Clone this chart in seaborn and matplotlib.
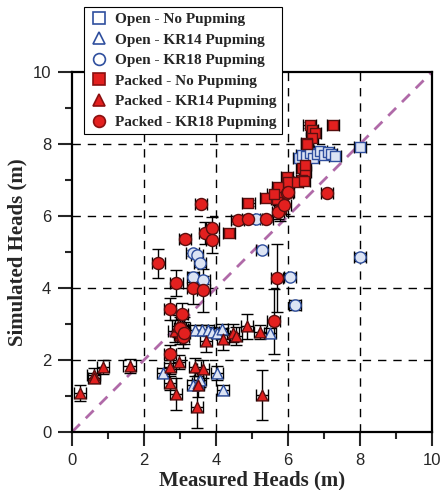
import numpy as np
import pandas as pd
import matplotlib
matplotlib.use("Agg")
import matplotlib.pyplot as plt
import seaborn as sns

# ---------------- data ----------------
open_np_x = [6.3, 6.4, 6.5, 6.6, 6.7, 6.8, 6.9, 7.0, 7.1, 7.2, 7.3, 8.0]
open_np_y = [7.62, 7.7, 7.68, 7.75, 7.6, 7.72, 7.8, 7.7, 7.78, 7.72, 7.68, 7.92]
open_np_yerr = [0.08] * 12

open_k14_x = [2.53, 3.36, 3.5, 3.55, 4.03, 4.19, 3.42, 3.6, 3.78, 3.9, 4.03, 4.17, 5.5]
open_k14_y = [1.64, 1.3, 1.36, 1.44, 1.64, 1.17, 2.83, 2.83, 2.83, 2.78, 2.75, 2.85, 2.75]
open_k14_yerr = [0.15, 0.14, 0.2, 0.2, 0.2, 0.14, 0.14, 0.14, 0.15, 0.15, 0.15, 0.15, 0.15]

open_k18_x = [3.35, 3.47, 3.55, 3.37, 3.65, 5.1, 5.28, 6.05, 6.2, 8.0]
open_k18_y = [4.97, 4.92, 4.69, 4.3, 4.22, 5.92, 5.06, 4.31, 3.53, 4.86]
open_k18_yerr = [0.08, 0.08, 0.1, 0.12, 0.1, 0.08, 0.08, 0.1, 0.15, 0.1]

pack_np_x = [7.25, 6.6, 6.67, 6.75, 6.67, 6.53, 6.4, 6.47, 6.47, 5.97, 6.0, 6.4, 6.25,
             5.4, 5.7, 5.72, 5.72, 6.45, 4.9, 4.36, 6.52, 5.6]
pack_np_y = [8.53, 8.53, 8.4, 8.3, 8.17, 8.03, 7.33, 7.22, 7.42, 7.08, 6.94, 7.0, 6.94,
             6.5, 6.47, 6.67, 6.8, 6.97, 6.36, 5.53, 8.0, 6.6]
pack_np_yerr = [0.08] * 22

pack_k14_x = [0.22, 0.6, 0.62, 0.87, 1.6, 2.72, 2.72, 2.88, 2.97, 3.42, 3.64, 3.47, 3.5,
              3.72, 4.2, 4.47, 4.55, 4.86, 5.22, 5.28, 2.85, 2.95, 3.0, 3.05, 3.1]
pack_k14_y = [1.08, 1.58, 1.5, 1.8, 1.83, 1.81, 1.36, 1.06, 1.94, 1.81, 1.74, 0.7, 1.31,
              2.53, 2.58, 2.75, 2.68, 2.94, 2.78, 1.03, 2.8, 2.95, 2.7, 2.85, 2.9]
pack_k14_yerr = [0.22, 0.2, 0.15, 0.2, 0.2, 0.2, 0.2, 0.45, 0.2, 0.25, 0.25, 0.6, 0.35,
                 0.3, 0.3, 0.25, 0.25, 0.35, 0.2, 0.7, 0.3, 0.3, 0.25, 0.3, 0.3]

pack_k18_x = [7.08, 5.78, 5.97, 6.0, 5.72, 5.9, 3.58, 4.6, 4.9, 5.4, 3.7, 3.9, 3.9, 2.4,
              2.9, 3.14, 3.37, 3.65, 2.72, 3.05, 3.08, 2.72, 5.7, 5.6, 3.0, 3.1]
pack_k18_y = [6.64, 6.17, 6.64, 6.67, 6.11, 6.3, 6.33, 5.89, 5.92, 5.92, 5.53, 5.67, 5.33,
              4.69, 4.14, 5.36, 4.0, 3.94, 3.42, 3.28, 2.64, 2.17, 4.28, 3.08, 2.9, 2.75]
pack_k18_yerr = [0.08, 0.3, 0.1, 0.1, 0.2, 0.25, 0.08, 0.1, 0.1, 0.1, 0.3, 0.3, 0.36, 0.4,
                 0.35, 0.1, 0.45, 0.6, 0.3, 0.3, 0.3, 0.25, 0.95, 0.9, 0.3, 0.3]

series_labels = ["Open - No Pupming", "Open - KR14 Pupming", "Open - KR18 Pupming",
                 "Packed - No Pupming", "Packed - KR14 Pupming", "Packed - KR18 Pupming"]

axis_ticks = [0, 2, 4, 6, 8, 10]
x_label = "Measured Heads (m)"
y_label = "Simulated Heads (m)"

# ---------------- build table ----------------
groups = [
    (open_np_x, open_np_y, open_np_yerr),
    (open_k14_x, open_k14_y, open_k14_yerr),
    (open_k18_x, open_k18_y, open_k18_yerr),
    (pack_np_x, pack_np_y, pack_np_yerr),
    (pack_k14_x, pack_k14_y, pack_k14_yerr),
    (pack_k18_x, pack_k18_y, pack_k18_yerr),
]
frames = []
for lab, (xs, ys, es) in zip(series_labels, groups):
    frames.append(pd.DataFrame({"x": xs, "y": ys, "yerr": es, "series": lab}))
df = pd.concat(frames, ignore_index=True)

# ---------------- style ----------------
sns.set_style("ticks")
plt.rcParams["font.family"] = ["Liberation Sans", "DejaVu Sans"]

BLUE = "#2F4F9E"
LBLUE = "#DCE4F4"
RED = "#E3201F"
DRED = "#5A0F0F"
styles = {
    series_labels[0]: dict(marker="s", face=LBLUE, edge=BLUE, s=55),
    series_labels[1]: dict(marker="^", face=LBLUE, edge=BLUE, s=60),
    series_labels[2]: dict(marker="o", face=LBLUE, edge=BLUE, s=65),
    series_labels[3]: dict(marker="s", face=RED, edge=DRED, s=60),
    series_labels[4]: dict(marker="^", face=RED, edge=DRED, s=60),
    series_labels[5]: dict(marker="o", face=RED, edge=DRED, s=75),
}

fig = plt.figure(figsize=(4.41, 4.90), dpi=100)
ax = fig.add_axes([72 / 441, 1 - 432 / 490, 360 / 441, 360 / 490])

# grid + diagonal
for v in axis_ticks[1:-1]:
    ax.axvline(v, color="black", lw=1.0, ls=(0, (6, 5)), zorder=1)
    ax.axhline(v, color="black", lw=1.0, ls=(0, (6, 5)), zorder=1)
ax.plot([0, 10], [0, 10], color="#B06AA8", lw=2.0, ls=(0, (4, 3)), zorder=2)

# error bars
ax.errorbar(df["x"], df["y"], yerr=df["yerr"], xerr=0.17, fmt="none",
            ecolor="black", elinewidth=1.0, capsize=4, capthick=1.0, zorder=3)

# markers
for lab in series_labels:
    st = styles[lab]
    sub = df[df["series"] == lab]
    sns.scatterplot(data=sub, x="x", y="y", ax=ax, marker=st["marker"], s=st["s"],
                    facecolor=st["face"], edgecolor=st["edge"], linewidth=1.0,
                    label=lab, zorder=4, legend=True)

ax.set_xlim(0, 10)
ax.set_ylim(0, 10)
ax.set_xticks(axis_ticks)
ax.set_yticks(axis_ticks)
ax.set_xticks([1, 3, 5, 7, 9], minor=True)
ax.set_yticks([1, 3, 5, 7, 9], minor=True)
ax.tick_params(which="major", direction="out", length=10, width=1.5, labelsize=12, pad=5)
ax.tick_params(which="minor", direction="out", length=5, width=1.5)
for sp in ax.spines.values():
    sp.set_visible(True)
    sp.set_linewidth(1.6)
    sp.set_color("black")

serif_bold = dict(family=["Liberation Serif", "DejaVu Serif"], weight="bold", size=15)
ax.set_xlabel(x_label, fontdict=serif_bold, labelpad=2)
ax.set_ylabel(y_label, fontdict=serif_bold, labelpad=4)

handles, labels = ax.get_legend_handles_labels()
for h in handles:
    h.set_facecolor("none") if False else None
legend_handles = []
from matplotlib.lines import Line2D
for lab in series_labels:
    st = styles[lab]
    fc = "white" if lab.startswith("Open") else st["face"]
    legend_handles.append(Line2D([], [], ls="none", marker=st["marker"], markersize=8.5,
                                 markerfacecolor=fc, markeredgecolor=st["edge"] if lab.startswith("Open") else "#8B1010",
                                 markeredgewidth=1.2))
ax.get_legend().remove() if ax.get_legend() else None
leg = fig.legend(legend_handles, series_labels, loc="upper left", bbox_to_anchor=(84 / 441, 1 - 7 / 490),
                 frameon=True, fancybox=False, edgecolor="black", framealpha=1,
                 prop=dict(family=["Liberation Serif", "DejaVu Serif"], weight="bold", size=11),
                 handletextpad=0.5, labelspacing=0.45, borderpad=0.35, handlelength=1.2,
                 borderaxespad=0)
leg.get_frame().set_linewidth(0.8)

fig.savefig("out.png", dpi=100)
